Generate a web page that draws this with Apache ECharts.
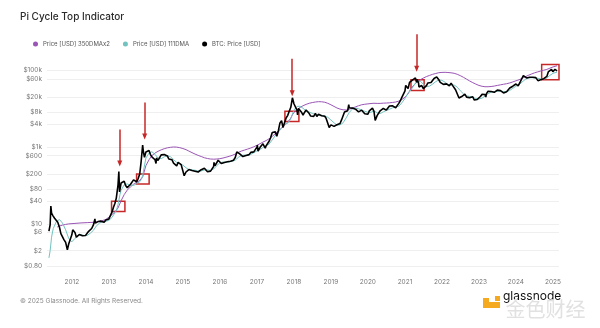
<!DOCTYPE html>
<html><head><meta charset="utf-8">
<script src="https://cdn.jsdelivr.net/npm/echarts@6/dist/echarts.min.js"></script>
<style>html,body{margin:0;padding:0;background:#fff}#c{width:600px;height:328px}</style>
</head><body><div id="c"></div>
<script>
// ---- data ----
const priceTicks = [0.8, 2, 6, 10, 40, 80, 200, 600, 1000, 4000, 8000, 20000, 60000, 100000];

const btcDates = [
'2011-05-20','2011-06-01','2011-06-08','2011-06-15','2011-07-01','2011-07-15','2011-08-01','2011-08-15','2011-09-01','2011-09-15','2011-10-01','2011-10-15','2011-11-01','2011-11-18','2011-12-01','2011-12-15',
'2012-01-01','2012-01-10','2012-01-15','2012-02-01','2012-02-15','2012-03-01','2012-03-15','2012-04-01','2012-04-15','2012-05-01','2012-05-15','2012-06-01','2012-06-15','2012-07-01','2012-07-15','2012-08-01','2012-08-16','2012-08-20','2012-09-01','2012-09-15','2012-10-01','2012-10-15','2012-11-01','2012-11-15','2012-12-01','2012-12-15',
'2013-01-01','2013-01-15','2013-02-01','2013-02-15','2013-03-01','2013-03-15','2013-04-01','2013-04-09','2013-04-16','2013-05-01','2013-05-15','2013-06-01','2013-06-15','2013-07-01','2013-07-15','2013-08-01','2013-08-15','2013-09-01','2013-09-15','2013-10-01','2013-10-15','2013-11-01','2013-11-15','2013-11-30','2013-12-07','2013-12-18',
'2014-01-01','2014-01-15','2014-02-01','2014-02-15','2014-03-01','2014-03-15','2014-04-01','2014-04-11','2014-04-15','2014-05-01','2014-05-15','2014-06-01','2014-06-15','2014-07-01','2014-07-15','2014-08-01','2014-08-15','2014-09-01','2014-09-15','2014-10-01','2014-10-15','2014-11-01','2014-11-15','2014-12-01','2014-12-15',
'2015-01-01','2015-01-14','2015-02-01','2015-02-15','2015-03-01','2015-03-15','2015-04-01','2015-04-15','2015-05-01','2015-05-15','2015-06-01','2015-06-15','2015-07-01','2015-07-15','2015-08-01','2015-08-15','2015-09-01','2015-09-15','2015-10-01','2015-10-15','2015-11-01','2015-11-04','2015-11-15','2015-12-01','2015-12-15',
'2016-01-01','2016-01-15','2016-02-01','2016-02-15','2016-03-01','2016-03-15','2016-04-01','2016-04-15','2016-05-01','2016-05-15','2016-06-01','2016-06-16','2016-07-01','2016-07-15','2016-08-01','2016-08-15','2016-09-01','2016-09-15','2016-10-01','2016-10-15','2016-11-01','2016-11-15','2016-12-01','2016-12-15',
'2017-01-01','2017-01-05','2017-01-12','2017-02-01','2017-02-15','2017-03-01','2017-03-15','2017-03-24','2017-04-01','2017-04-15','2017-05-01','2017-05-15','2017-06-01','2017-06-15','2017-07-01','2017-07-16','2017-08-01','2017-08-15','2017-09-01','2017-09-15','2017-10-01','2017-10-15','2017-11-01','2017-11-15','2017-12-01','2017-12-17',
'2018-01-01','2018-01-15','2018-02-01','2018-02-06','2018-02-15','2018-03-01','2018-03-15','2018-04-01','2018-04-15','2018-05-01','2018-05-15','2018-06-01','2018-06-15','2018-07-01','2018-07-15','2018-08-01','2018-08-15','2018-09-01','2018-09-15','2018-10-01','2018-10-15','2018-11-01','2018-11-15','2018-12-01','2018-12-15',
'2019-01-01','2019-01-15','2019-02-01','2019-02-15','2019-03-01','2019-03-15','2019-04-01','2019-04-15','2019-05-01','2019-05-15','2019-06-01','2019-06-15','2019-06-26','2019-07-01','2019-07-15','2019-08-01','2019-08-15','2019-09-01','2019-09-15','2019-10-01','2019-10-15','2019-11-01','2019-11-15','2019-12-01','2019-12-15',
'2020-01-01','2020-01-15','2020-02-01','2020-02-15','2020-03-01','2020-03-13','2020-03-15','2020-04-01','2020-04-15','2020-05-01','2020-05-15','2020-06-01','2020-06-15','2020-07-01','2020-07-15','2020-08-01','2020-08-15','2020-09-01','2020-09-15','2020-10-01','2020-10-15','2020-11-01','2020-11-15','2020-12-01','2020-12-15',
'2021-01-01','2021-01-08','2021-01-15','2021-02-01','2021-02-15','2021-03-01','2021-03-15','2021-04-01','2021-04-14','2021-04-25','2021-05-01','2021-05-15','2021-05-19','2021-06-01','2021-06-15','2021-07-01','2021-07-20','2021-08-01','2021-08-15','2021-09-01','2021-09-15','2021-10-01','2021-10-15','2021-11-01','2021-11-10','2021-11-15','2021-12-01','2021-12-15',
'2022-01-01','2022-01-15','2022-02-01','2022-02-15','2022-03-01','2022-03-15','2022-04-01','2022-04-15','2022-05-01','2022-05-15','2022-06-01','2022-06-18','2022-07-01','2022-07-15','2022-08-01','2022-08-15','2022-09-01','2022-09-15','2022-10-01','2022-10-15','2022-11-01','2022-11-15','2022-12-01','2022-12-15',
'2023-01-01','2023-01-15','2023-02-01','2023-02-15','2023-03-01','2023-03-10','2023-03-15','2023-04-01','2023-04-15','2023-05-01','2023-05-15','2023-06-01','2023-06-15','2023-07-01','2023-07-15','2023-08-01','2023-08-15','2023-09-01','2023-09-15','2023-10-01','2023-10-15','2023-11-01','2023-11-15','2023-12-01','2023-12-15',
'2024-01-01','2024-01-15','2024-01-23','2024-02-01','2024-02-15','2024-03-01','2024-03-14','2024-03-15','2024-04-01','2024-04-15','2024-05-01','2024-05-15','2024-06-01','2024-06-15','2024-07-01','2024-07-15','2024-08-01','2024-08-05','2024-08-15','2024-09-01','2024-09-06','2024-09-15','2024-10-01','2024-10-15','2024-11-01','2024-11-15','2024-12-01','2024-12-17','2024-12-30',
'2025-01-01','2025-01-15','2025-01-20','2025-02-01','2025-02-10'];
const btcPrice = [
6.5,9.5,29,19,16,14,13,11,8.2,5.6,5.0,3.9,3.3,2.1,3.0,3.2,
5.2,7.0,6.8,6.0,4.5,4.9,5.3,4.9,4.9,5.0,5.0,5.3,6.4,6.7,7.6,9.4,13.5,10.5,10.2,11.5,12.4,11.8,10.7,11.0,12.6,13.3,
13.5,14.5,20.5,27,34,47,104,230,68,116,115,129,100,88,98,106,99,140,126,125,148,200,420,1130,770,540,
750,830,820,640,560,630,470,375,520,450,445,630,590,640,620,590,490,480,470,385,395,325,400,380,350,
315,180,225,235,260,285,245,220,235,237,225,236,258,285,281,260,229,230,237,255,315,400,330,363,455,
433,375,371,400,433,415,416,428,451,457,537,750,676,665,606,567,572,607,615,638,729,711,753,780,
998,1130,790,989,1010,1222,1250,940,1080,1180,1420,1730,2400,2450,2500,1930,2720,4180,4890,3230,4400,5700,6740,7300,10900,19300,
13500,13700,9100,6900,10200,10950,8250,6800,8000,9250,8680,7500,6450,6390,6350,7600,6300,7200,6500,6590,6650,6370,5600,4200,3250,
3800,3580,3480,3620,3830,3930,4140,5040,5370,8200,8560,8830,12900,10600,10900,10400,10300,9750,10300,8300,8360,9200,8460,7400,7100,
7200,8820,9380,10330,8600,4970,5400,6640,6640,8860,9320,10200,9440,9230,9200,11800,11860,11900,10790,10620,11500,13800,15960,19700,19400,
29400,40500,36800,33500,48600,49600,55900,58700,63500,49000,57800,46700,37000,36700,40200,33500,29800,39900,47100,48800,48100,48200,61600,61300,67500,65500,57000,48900,
47700,43100,38500,44500,44400,39300,46300,40600,38500,31300,29800,19000,19300,20800,23300,24100,20100,19700,19300,19100,20500,16900,17000,17400,
16600,20900,23700,24300,23600,20200,24400,28500,30300,28100,27200,26800,25600,30600,30300,29700,29200,25900,26600,27900,27100,34700,37900,38700,42200,
44200,42500,39500,43100,52000,62400,73100,71400,69700,63400,58300,66200,67800,66200,62900,64800,65300,54000,57600,57300,53900,59100,60800,67000,69500,91000,97200,106000,92500,
94400,100500,106000,100600,97500];

const dma111Dates = [
'2011-05-20','2011-06-01','2011-06-15','2011-07-01','2011-08-01','2011-09-01','2011-09-15','2011-10-01','2011-11-01','2011-12-01',
'2012-01-01','2012-02-01','2012-03-01','2012-04-01','2012-05-01','2012-06-01','2012-07-01','2012-08-01','2012-09-01','2012-10-01','2012-11-01','2012-12-01',
'2013-01-01','2013-02-01','2013-03-01','2013-03-15','2013-04-01','2013-04-20','2013-05-01','2013-06-01','2013-07-01','2013-08-01','2013-09-01','2013-10-01','2013-11-01','2013-11-20','2013-12-01','2013-12-15',
'2014-01-01','2014-02-01','2014-03-01','2014-04-01','2014-05-01','2014-06-01','2014-07-01','2014-08-01','2014-09-01','2014-10-01','2014-11-01','2014-12-01',
'2015-01-01','2015-02-01','2015-03-01','2015-04-01','2015-05-01','2015-06-01','2015-07-01','2015-08-01','2015-09-01','2015-10-01','2015-11-01','2015-12-01',
'2016-01-01','2016-02-01','2016-03-01','2016-04-01','2016-05-01','2016-06-01','2016-07-01','2016-08-01','2016-09-01','2016-10-01','2016-11-01','2016-12-01',
'2017-01-01','2017-02-01','2017-03-01','2017-04-01','2017-05-01','2017-06-01','2017-07-01','2017-08-01','2017-09-01','2017-10-01','2017-11-01','2017-12-01','2017-12-15',
'2018-01-01','2018-02-01','2018-03-01','2018-04-01','2018-05-01','2018-06-01','2018-07-01','2018-08-01','2018-09-01','2018-10-01','2018-11-01','2018-12-01',
'2019-01-01','2019-02-01','2019-03-01','2019-04-01','2019-05-01','2019-06-01','2019-07-01','2019-08-01','2019-09-01','2019-10-01','2019-11-01','2019-12-01',
'2020-01-01','2020-02-01','2020-03-01','2020-04-01','2020-05-01','2020-06-01','2020-07-01','2020-08-01','2020-09-01','2020-10-01','2020-11-01','2020-12-01',
'2021-01-01','2021-02-01','2021-03-01','2021-04-01','2021-04-15','2021-05-01','2021-06-01','2021-07-01','2021-08-01','2021-09-01','2021-10-01','2021-11-01','2021-12-01',
'2022-01-01','2022-02-01','2022-03-01','2022-04-01','2022-05-01','2022-06-01','2022-07-01','2022-08-01','2022-09-01','2022-10-01','2022-11-01','2022-12-01',
'2023-01-01','2023-02-01','2023-03-01','2023-04-01','2023-05-01','2023-06-01','2023-07-01','2023-08-01','2023-09-01','2023-10-01','2023-11-01','2023-12-01',
'2024-01-01','2024-02-01','2024-03-01','2024-04-01','2024-05-01','2024-06-01','2024-07-01','2024-08-01','2024-09-01','2024-10-01','2024-11-01','2024-12-01',
'2025-01-01','2025-02-10'];
const dma111 = [
1.3,2.0,4.5,7.5,11.5,13.0,12.5,10.5,7.0,4.2,
3.4,4.2,5.0,5.2,5.0,5.0,5.7,6.8,9.0,10.5,11.3,11.7,
12.4,14.8,19.5,22,32,58,75,105,110,102,100,112,125,150,185,300,
520,700,760,650,520,500,560,600,560,470,400,370,
340,290,260,255,250,238,240,255,255,245,270,330,
390,410,405,410,430,460,540,610,620,605,645,720,
800,870,980,1080,1200,1550,2000,2450,3200,3900,4200,5500,7000,
9300,11500,11600,10300,8700,8200,7600,7100,6900,6700,6500,6000,
5100,4300,3750,3800,4300,5800,8000,9900,10500,10000,9200,8600,
8100,8100,8800,7900,7500,8300,9000,9700,10600,11100,11600,14300,
18500,26000,31000,41000,47000,52500,52000,44000,37500,39000,44000,51000,56500,
55000,49000,43000,42000,41500,36500,29500,24500,21600,21000,19800,18500,
17900,19000,21200,24500,27300,27700,28600,29200,28000,27900,30000,34000,
39000,42000,49500,58000,63000,64500,64000,62500,60000,59500,63000,74000,
84000,90000];

const dma350x2Dates = [
'2011-08-10','2011-09-01','2011-10-01','2011-11-01','2011-12-01',
'2012-02-01','2012-04-01','2012-06-01','2012-08-01','2012-10-01','2012-12-01',
'2013-01-01','2013-02-01','2013-03-01','2013-03-15','2013-04-01','2013-05-01','2013-06-01','2013-07-01','2013-08-01','2013-09-01','2013-10-01','2013-11-01','2013-12-01',
'2014-01-01','2014-02-01','2014-03-01','2014-04-01','2014-05-01','2014-06-01','2014-07-01','2014-08-01','2014-09-01','2014-10-01','2014-11-01','2014-12-01',
'2015-01-01','2015-02-01','2015-03-01','2015-04-01','2015-05-01','2015-06-01','2015-07-01','2015-08-01','2015-09-01','2015-10-01','2015-11-01','2015-12-01',
'2016-01-01','2016-02-01','2016-03-01','2016-04-01','2016-05-01','2016-06-01','2016-07-01','2016-08-01','2016-09-01','2016-10-01','2016-11-01','2016-12-01',
'2017-01-01','2017-02-01','2017-03-01','2017-04-01','2017-05-01','2017-06-01','2017-07-01','2017-08-01','2017-09-01','2017-10-01','2017-11-01','2017-12-01','2017-12-15',
'2018-01-01','2018-02-01','2018-03-01','2018-04-01','2018-05-01','2018-06-01','2018-07-01','2018-08-01','2018-09-01','2018-10-01','2018-11-01','2018-12-01',
'2019-01-01','2019-02-01','2019-03-01','2019-04-01','2019-05-01','2019-06-01','2019-07-01','2019-08-01','2019-09-01','2019-10-01','2019-11-01','2019-12-01',
'2020-01-01','2020-02-01','2020-03-01','2020-04-01','2020-05-01','2020-06-01','2020-07-01','2020-08-01','2020-09-01','2020-10-01','2020-11-01','2020-12-01',
'2021-01-01','2021-02-01','2021-03-01','2021-04-01','2021-04-15','2021-05-01','2021-06-01','2021-07-01','2021-08-01','2021-09-01','2021-10-01','2021-11-01','2021-12-01',
'2022-01-01','2022-02-01','2022-03-01','2022-04-01','2022-05-01','2022-06-01','2022-07-01','2022-08-01','2022-09-01','2022-10-01','2022-11-01','2022-12-01',
'2023-01-01','2023-02-01','2023-03-01','2023-04-01','2023-05-01','2023-06-01','2023-07-01','2023-08-01','2023-09-01','2023-10-01','2023-11-01','2023-12-01',
'2024-01-01','2024-02-01','2024-03-01','2024-04-01','2024-05-01','2024-06-01','2024-07-01','2024-08-01','2024-09-01','2024-10-01','2024-11-01','2024-12-01',
'2025-01-01','2025-02-10'];
const dma350x2 = [
8.3,8.8,9.3,9.7,10.0,
10.3,10.6,10.8,11.0,11.6,13.0,
15,17.5,20.5,23,26,40,58,76,92,108,120,135,170,
330,470,600,700,780,850,910,960,990,1010,1000,970,
920,860,790,720,660,610,570,530,505,490,485,490,
500,520,545,575,610,660,730,790,840,890,950,1020,
1120,1230,1350,1480,1650,1900,2250,2650,3150,3750,4500,5700,6800,
8000,9400,10800,12000,13000,13900,14500,15000,15300,15200,14800,13900,
12700,11500,10500,9800,9400,9300,9700,10400,11200,12000,12700,13100,
13400,13700,13900,13800,13800,14000,14100,14300,14600,15000,15800,17300,
20000,24500,34000,42000,46000,50000,57000,63000,69000,74000,79000,83000,87000,
88500,89000,88000,86500,84000,79000,73000,66000,59000,53000,48000,44000,
40500,38500,37500,37500,38000,39000,40500,42000,43500,45000,47000,50000,
53500,57000,62000,68000,74000,80000,86000,91000,96000,101000,106000,114000,
123000,132000];

// annotation boxes (date range, price range) and arrows (date, top price, tip price)
const boxStart = ['2013-01-27','2013-10-01','2017-10-04','2021-03-01','2024-09-11'];
const boxEnd   = ['2013-06-08','2014-02-02','2018-02-19','2021-07-09','2025-04-05'];
const boxLow   = [21.2, 110, 4660, 30100, 57200];
const boxHigh  = [38.7, 201, 8650, 57200, 143000];
const arrowDate = ['2013-04-18','2013-12-20','2017-12-15','2021-04-26'];
const arrowTop  = [2880, 14600, 202000, 871000];
const arrowTip  = [373, 1890, 25500, 111000];

// ---- chart ----
const zip = (d, v) => d.map((x, i) => [x, v[i]]);
const RED = '#c62828';
const FONT = 'Inter, "Noto Sans", sans-serif';
const YEAR = 365.25 * 24 * 3600 * 1000;
const chart = echarts.init(document.getElementById('c'), null, {renderer: 'canvas'});
chart.setOption({
  animation: false,
  backgroundColor: '#fff',
  title: {text: 'Pi Cycle Top Indicator', left: 15, top: 7,
    textStyle: {fontSize: 10, fontWeight: 500, color: '#2b2b2b', fontFamily: FONT}},
  legend: {left: 28, top: 36, icon: 'circle', itemWidth: 5, itemHeight: 5, itemGap: 13,
    textStyle: {fontSize: 6, color: '#555', fontFamily: FONT},
    data: ['Price [USD] 350DMAx2', 'Price [USD] 111DMA', 'BTC: Price [USD]']},
  grid: {left: 47, right: 41, top: 32, bottom: 62, containLabel: false},
  xAxis: {type: 'time', min: '2011-05-01', max: '2025-03-01', splitNumber: 14,
    minInterval: YEAR * 0.9, maxInterval: YEAR * 1.1,
    axisLine: {show: false}, axisTick: {show: false}, splitLine: {show: false},
    axisLabel: {formatter: '{yyyy}', fontSize: 6.5, color: '#777', fontFamily: FONT, margin: 13, fontWeight: 'normal',
      rich: {}}},
  yAxis: {type: 'log', logBase: 10, min: 0.8, max: 1000000,
    axisLine: {show: false},
    axisTick: {show: false, customValues: priceTicks},
    splitLine: {show: true, lineStyle: {color: '#efefef', width: 1}},
    axisLabel: {customValues: priceTicks, fontSize: 6.5, color: '#777', fontFamily: FONT, margin: 5,
      formatter: v => '$' + (v >= 1000 ? Math.round(v / 1000) + 'k' : (v < 1 ? v.toFixed(2) : Math.round(v)))}},
  series: [
    {name: 'Price [USD] 350DMAx2', type: 'line', showSymbol: false, symbol: 'circle',
      itemStyle: {color: '#9a55b5'}, lineStyle: {width: 1, color: '#9a55b5'},
      data: zip(dma350x2Dates, dma350x2), z: 2},
    {name: 'Price [USD] 111DMA', type: 'line', showSymbol: false, symbol: 'circle',
      itemStyle: {color: '#72c3c0'}, lineStyle: {width: 1, color: '#72c3c0'},
      data: zip(dma111Dates, dma111), z: 3},
    {name: 'BTC: Price [USD]', type: 'line', showSymbol: false, symbol: 'circle',
      itemStyle: {color: '#000'}, lineStyle: {width: 1.6, color: '#000'},
      data: zip(btcDates, btcPrice), z: 4,
      markArea: {silent: true, itemStyle: {color: 'rgba(0,0,0,0)', borderColor: RED, borderWidth: 1.5},
        data: boxStart.map((s, i) => [{xAxis: s, yAxis: boxHigh[i]}, {xAxis: boxEnd[i], yAxis: boxLow[i]}])},
      markLine: {silent: true, symbol: ['none', 'triangle'], symbolSize: [5, 6], label: {show: false},
        lineStyle: {color: RED, width: 1.5, type: 'solid'},
        data: arrowDate.map((d, i) => [{coord: [d, arrowTop[i]]}, {coord: [d, arrowTip[i]]}])}}
  ],
  graphic: [
    {type: 'text', left: 20, top: 298, style: {text: '© 2025 Glassnode. All Rights Reserved.', fontSize: 6.5, fill: '#888', fontFamily: FONT}},
    {type: 'rect', shape: {x: 483, y: 302, width: 17, height: 6}, style: {fill: '#f4a91f'}},
    {type: 'rect', shape: {x: 483, y: 298, width: 6, height: 10}, style: {fill: '#f4a91f'}},
    {type: 'rect', shape: {x: 495, y: 296, width: 5, height: 5}, style: {fill: '#f4a91f'}},
    {type: 'text', left: 503, top: 290, style: {text: 'glassnode', fontSize: 12, fill: '#111', fontFamily: FONT}},
    {type: 'text', left: 505, top: 299, style: {text: '金色财经', fontSize: 20, fill: 'rgba(215,215,215,0.75)', stroke: '#fff', lineWidth: 1, fontFamily: '"Noto Sans CJK SC"'}}
  ]
});
</script></body></html>
